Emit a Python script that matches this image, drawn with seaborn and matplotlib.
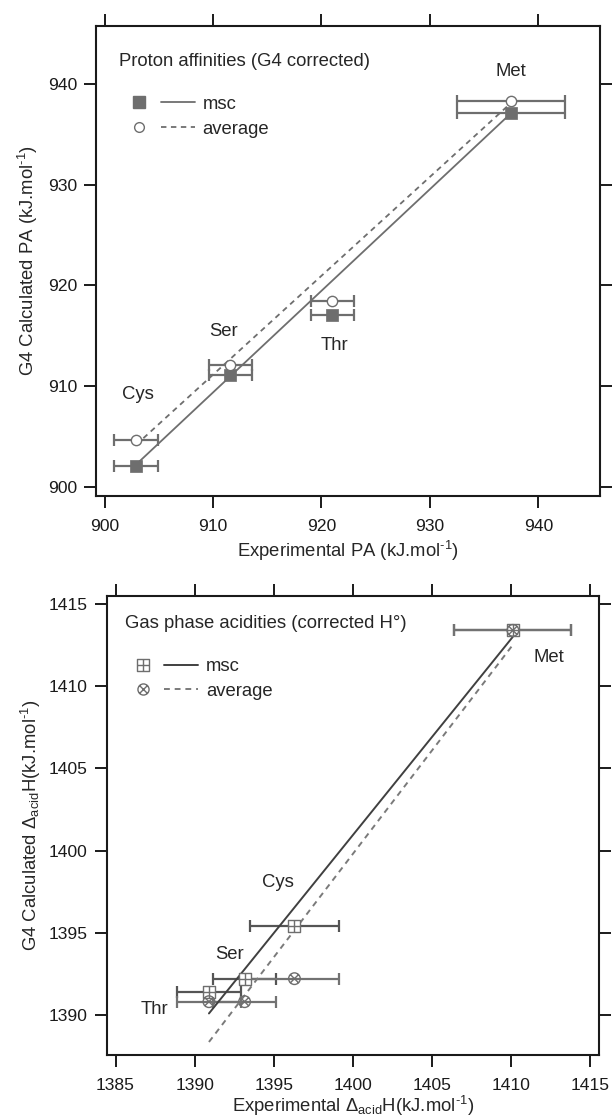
import matplotlib
matplotlib.use("Agg")
import numpy as np
import pandas as pd
import seaborn as sns
import matplotlib.pyplot as plt
from matplotlib.path import Path
from matplotlib.lines import Line2D
from matplotlib.legend_handler import HandlerTuple

# --- data ---
# proton affinities (top panel)
pa_names = ["Cys", "Ser", "Thr", "Met"]
pa_exp = [902.9, 911.6, 921.0, 937.5]
pa_err = [2.0, 2.0, 2.0, 5.0]
pa_msc = [902.1, 911.1, 917.1, 937.1]
pa_avg = [904.6, 912.1, 918.4, 938.3]

# gas phase acidities (bottom panel)
ga_names = ["Thr", "Ser", "Cys", "Met"]
ga_exp = [1390.9, 1393.15, 1396.3, 1410.1]
ga_err = [2.0, 2.0, 2.8, 3.7]
ga_msc = [1391.4, 1392.2, 1395.4, 1413.4]
ga_avg = [1390.8, 1390.8, 1392.2, 1413.4]

pa = pd.DataFrame({"name": pa_names, "exp": pa_exp, "err": pa_err, "msc": pa_msc, "avg": pa_avg})
ga = pd.DataFrame({"name": ga_names, "exp": ga_exp, "err": ga_err, "msc": ga_msc, "avg": ga_avg})

sns.set_theme(style="ticks")
plt.rcParams["font.family"] = ["Liberation Sans", "DejaVu Sans"]
plt.rcParams["mathtext.fontset"] = "custom"
plt.rcParams["mathtext.rm"] = "Liberation Sans"
plt.rcParams["axes.linewidth"] = 1.5
plt.rcParams["axes.edgecolor"] = "#1a1a1a"

FS = 13.3
TICK_FS = 12.6
GRAY = "#6e6e6e"
DARK = "#404040"
UNIT = "(kJ.mol$^{\\mathregular{\u20101}}$)"

# markers: square with plus, circle with cross
sq_plus = Path(
    [(-1, -1), (1, -1), (1, 1), (-1, 1), (-1, -1), (0, -1), (0, 1), (-1, 0), (1, 0)],
    [Path.MOVETO, Path.LINETO, Path.LINETO, Path.LINETO, Path.CLOSEPOLY,
     Path.MOVETO, Path.LINETO, Path.MOVETO, Path.LINETO])
d = 0.7071
circ_x = Path.make_compound_path(
    Path.unit_circle(),
    Path([(-d, -d), (d, d)], [Path.MOVETO, Path.LINETO]),
    Path([(-d, d), (d, -d)], [Path.MOVETO, Path.LINETO]))

fig = plt.figure(figsize=(6.14, 11.18), dpi=100)
ax1 = fig.add_axes([0.1562, 0.5566, 0.8213, 0.4204])
ax2 = fig.add_axes([0.1735, 0.056, 0.8021, 0.4113])

for ax in (ax1, ax2):
    ax.tick_params(which="both", direction="out", length=8.5, width=1.4,
                   top=True, right=True, labeltop=False, labelright=False,
                   labelsize=TICK_FS, colors="#1a1a1a")
    ax.tick_params(axis="x", pad=8)
    ax.tick_params(axis="y", pad=5)

leg_kw = dict(handler_map={tuple: HandlerTuple(ndivide=None, pad=0.24)},
              loc="upper left", frameon=False, borderpad=0, borderaxespad=0,
              handlelength=3.92, handletextpad=0.42, labelspacing=0.42, fontsize=FS)

# ---------- top: proton affinities ----------
ax1.errorbar(pa["exp"], pa["msc"], xerr=pa["err"], fmt="none", ecolor=GRAY,
             elinewidth=1.6, capsize=4, capthick=1.6, zorder=2)
ax1.errorbar(pa["exp"], pa["avg"], xerr=pa["err"], fmt="none", ecolor=GRAY,
             elinewidth=1.6, capsize=4, capthick=1.6, zorder=2)
fit = pa[pa["name"] != "Thr"]
sns.regplot(data=fit, x="exp", y="msc", ax=ax1, scatter=False, ci=None, truncate=True,
            color=GRAY, line_kws=dict(lw=1.3, zorder=3))
sns.regplot(data=fit, x="exp", y="avg", ax=ax1, scatter=False, ci=None, truncate=True,
            color=GRAY, line_kws=dict(lw=1.3, ls=(0, (3, 2.5)), zorder=3))
sns.scatterplot(data=pa, x="exp", y="msc", ax=ax1, marker="s", s=75, color=GRAY,
                edgecolor=GRAY, linewidth=0.5, zorder=4)
sns.scatterplot(data=pa, x="exp", y="avg", ax=ax1, marker="o", s=55, facecolor="white",
                edgecolor=GRAY, linewidth=1.0, zorder=4)

ax1.set_xlim(899.2, 945.7)
ax1.set_ylim(899.1, 945.8)
ax1.set_xticks([900, 910, 920, 930, 940])
ax1.set_yticks([900, 910, 920, 930, 940])
ax1.set_xlabel("Experimental PA " + UNIT, fontsize=FS, labelpad=4)
ax1.set_ylabel("G4 Calculated PA " + UNIT, fontsize=FS, labelpad=6)

ax1.text(901.37, 942.27, "Proton affinities (G4 corrected)", fontsize=FS, va="center", ha="left")
for name, tx, ty in [("Met", 937.47, 941.28), ("Ser", 910.94, 915.39),
                     ("Thr", 921.23, 914.04), ("Cys", 903.07, 909.11)]:
    ax1.text(tx, ty, name, fontsize=FS, ha="center", va="center")

h_sq = Line2D([], [], marker="s", ls="none", color=GRAY, ms=8.3)
h_ln = Line2D([], [], color=GRAY, lw=1.3)
h_ci = Line2D([], [], marker="o", ls="none", mfc="white", mec=GRAY, ms=7, mew=1.0)
h_dl = Line2D([], [], color=GRAY, lw=1.3, ls=(0, (3, 2.5)))
ax1.legend([(h_sq, h_ln), (h_ci, h_dl)], ["msc", "average"],
           bbox_to_anchor=(0.052, 0.851), **leg_kw)

# ---------- bottom: gas phase acidities ----------
ax2.errorbar(ga["exp"], ga["msc"], xerr=ga["err"], fmt="none", ecolor="#555555",
             elinewidth=1.6, capsize=4, capthick=1.6, zorder=2)
ax2.errorbar(ga["exp"], ga["avg"], xerr=ga["err"], fmt="none", ecolor="#727272",
             elinewidth=1.6, capsize=4, capthick=1.6, zorder=2)
sns.regplot(data=ga, x="exp", y="msc", ax=ax2, scatter=False, ci=None, truncate=True,
            color=DARK, line_kws=dict(lw=1.4, zorder=3))
sns.regplot(data=ga, x="exp", y="avg", ax=ax2, scatter=False, ci=None, truncate=True,
            color="#7a7a7a", line_kws=dict(lw=1.4, ls=(0, (3, 2.5)), zorder=3))
sns.scatterplot(data=ga, x="exp", y="msc", ax=ax2, marker=sq_plus, s=80, facecolor="white",
                edgecolor=GRAY, linewidth=1.0, zorder=4)
sns.scatterplot(data=ga, x="exp", y="avg", ax=ax2, marker=circ_x, s=70, facecolor="none",
                edgecolor=GRAY, linewidth=1.0, zorder=4)

ax2.set_xlim(1384.43, 1415.54)
ax2.set_ylim(1387.53, 1415.52)
ax2.set_xticks([1385, 1390, 1395, 1400, 1405, 1410, 1415])
ax2.set_yticks([1390, 1395, 1400, 1405, 1410, 1415])
ax2.set_xlabel("Experimental $\\mathregular{\\Delta_{acid}}$H" + UNIT, fontsize=FS, labelpad=0.5)
ax2.set_ylabel("G4 Calculated $\\mathregular{\\Delta_{acid}}$H" + UNIT, fontsize=FS, labelpad=4)

ax2.text(1385.57, 1413.79, "Gas phase acidities (corrected H°)", fontsize=FS, va="center", ha="left")
for name, tx, ty in [("Met", 1412.37, 1411.77), ("Cys", 1395.26, 1398.08),
                     ("Ser", 1392.17, 1393.7), ("Thr", 1387.47, 1390.35)]:
    ax2.text(tx, ty, name, fontsize=FS, ha="center", va="center")

h_sp = Line2D([], [], marker=sq_plus, ls="none", mfc="white", mec=GRAY, ms=8.5, mew=1.0)
h_ln2 = Line2D([], [], color=DARK, lw=1.4)
h_cx = Line2D([], [], marker=circ_x, ls="none", mfc="none", mec=GRAY, ms=8, mew=1.0)
h_dl2 = Line2D([], [], color="#7a7a7a", lw=1.4, ls=(0, (3, 2.5)))
ax2.legend([(h_sp, h_ln2), (h_cx, h_dl2)], ["msc", "average"],
           bbox_to_anchor=(0.0396, 0.864), **leg_kw)

fig.savefig("out.png", dpi=100)
